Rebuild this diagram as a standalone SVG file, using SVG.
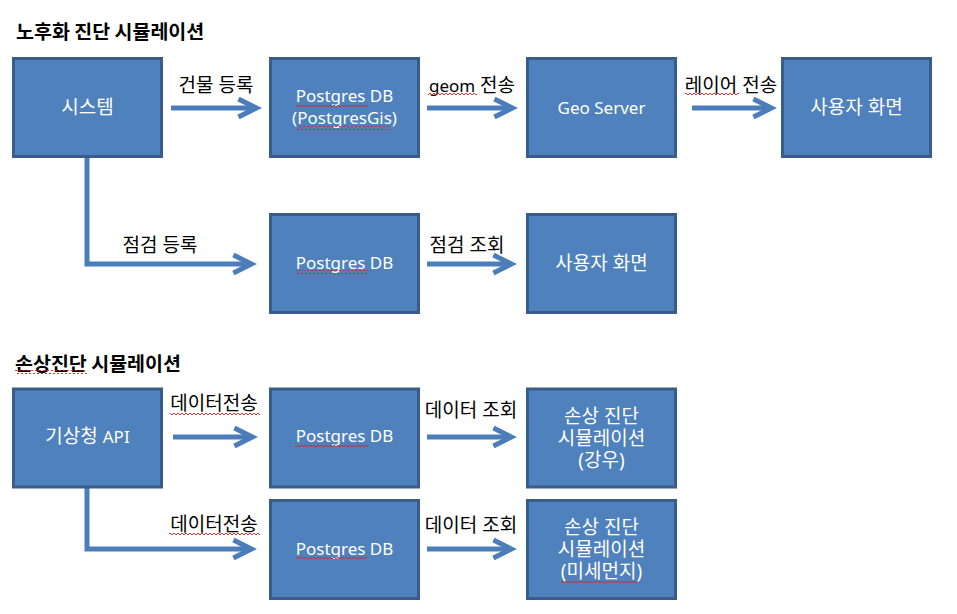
<svg xmlns="http://www.w3.org/2000/svg" width="957" height="614" viewBox="0 0 957 614">
<defs>
<marker id="ah" markerUnits="userSpaceOnUse" markerWidth="36" markerHeight="30" viewBox="-4 -15 36 30" refX="17.6" refY="0" orient="auto">
<path d="M0,-9 L18,0 L0,9" fill="none" stroke="#4a7dba" stroke-width="5" stroke-linejoin="miter"/>
</marker>
<pattern id="sq" patternUnits="userSpaceOnUse" width="4" height="4">
<path d="M0,3 L2,1 L4,3" fill="none" stroke="#e02020" stroke-width="0.9"/>
</pattern>
<style>
.bt{font-family:"Noto Sans","Noto Sans CJK KR",sans-serif;font-size:19px;fill:#ffffff;text-anchor:middle}
.box{fill:#4f81bd;stroke:#385d8a;stroke-width:3}
.la{font-size:17px}
.lb{font-family:"Noto Sans","Noto Sans CJK KR",sans-serif;font-size:19px;fill:#000000;text-anchor:middle}
.tt{font-family:"Noto Sans CJK KR",sans-serif;font-size:19.5px;font-weight:bold;fill:#000000}
.cn{fill:none;stroke:#4a7dba;stroke-width:5;marker-end:url(#ah)}
.sq{fill:url(#sq)}
</style>
</defs>
<rect width="957" height="614" fill="#ffffff"/>

<text class="tt" x="16" y="39">노후화 진단 시뮬레이션</text>
<text class="tt" x="15" y="371">손상진단 시뮬레이션</text>
<rect class="sq" x="15" y="370" width="72" height="4"/>

<g id="connectors">
<path class="cn" d="M171 108 H256"/>
<path class="cn" d="M427 108 H512"/>
<path class="cn" d="M692 108 H771"/>
<path class="cn" d="M87 157 V264 H251"/>
<path class="cn" d="M427 264 H511"/>
<path class="cn" d="M173 437 H252"/>
<path class="cn" d="M427 437 H511"/>
<path class="cn" d="M87 488 V549 H251"/>
<path class="cn" d="M427 549 H511"/>
<text class="lb" x="216" y="92">건물 등록</text>
<text class="lb" x="472" y="92"><tspan class="la">geom</tspan> 전송</text>
<rect class="sq" x="428" y="92" width="49" height="4"/>
<text class="lb" x="731" y="92">레이어 전송</text>
<rect class="sq" x="685" y="93" width="54" height="4"/>
<text class="lb" x="160" y="252">점검 등록</text>
<text class="lb" x="467" y="252">점검 조회</text>
<text class="lb" x="214" y="410">데이터전송</text>
<rect class="sq" x="170" y="411" width="90" height="4"/>
<text class="lb" x="471" y="417">데이터 조회</text>
<text class="lb" x="214" y="531">데이터전송</text>
<rect class="sq" x="169" y="533" width="91" height="4"/>
<text class="lb" x="471" y="532">데이터 조회</text>
</g>

<g id="n-system">
<rect class="box" x="13.5" y="58.5" width="148" height="98"/>
<text class="bt" x="87.5" y="114">시스템</text>
</g>
<g id="n-postgres-gis">
<rect class="box" x="270.5" y="58.5" width="148" height="98"/>
<text class="bt la" x="344.5" y="102">Postgres DB</text>
<text class="bt la" x="344.5" y="124">(PostgresGis)</text>
<rect class="sq" x="296" y="103" width="72" height="4"/>
<rect class="sq" x="297" y="126" width="93" height="4"/>
</g>
<g id="n-geoserver">
<rect class="box" x="527.5" y="58.5" width="148" height="98"/>
<text class="bt la" x="601.5" y="114">Geo Server</text>
</g>
<g id="n-user1">
<rect class="box" x="782.5" y="58.5" width="148" height="98"/>
<text class="bt" x="856.5" y="114">사용자 화면</text>
</g>

<g id="n-postgres2">
<rect class="box" x="270.5" y="214.5" width="148" height="98"/>
<text class="bt la" x="344.5" y="269">Postgres DB</text>
<rect class="sq" x="296" y="270" width="72" height="4"/>
</g>
<g id="n-user2">
<rect class="box" x="527.5" y="214.5" width="148" height="98"/>
<text class="bt" x="601.5" y="270">사용자 화면</text>
</g>

<g id="n-kma">
<rect class="box" x="13.5" y="389" width="148" height="98"/>
<text class="bt" x="87.5" y="443">기상청 <tspan class="la">API</tspan></text>
</g>
<g id="n-postgres3">
<rect class="box" x="270.5" y="389" width="148" height="98"/>
<text class="bt la" x="344.5" y="442">Postgres DB</text>
<rect class="sq" x="295" y="443" width="73" height="4"/>
</g>
<g id="n-rain">
<rect class="box" x="527.5" y="389" width="148" height="98"/>
<text class="bt" x="601.5" y="423">손상 진단</text>
<text class="bt" x="601.5" y="445">시뮬레이션</text>
<text class="bt" x="601.5" y="467">(강우)</text>
</g>

<g id="n-postgres4">
<rect class="box" x="270.5" y="500.5" width="148" height="98"/>
<text class="bt la" x="344.5" y="555">Postgres DB</text>
<rect class="sq" x="296" y="556" width="71" height="4"/>
</g>
<g id="n-dust">
<rect class="box" x="527.5" y="500.5" width="148" height="98"/>
<text class="bt" x="601.5" y="534">손상 진단</text>
<text class="bt" x="601.5" y="556">시뮬레이션</text>
<text class="bt" x="601.5" y="578">(미세먼지)</text>
<rect class="sq" x="561" y="579" width="76" height="4"/>
</g>
</svg>
